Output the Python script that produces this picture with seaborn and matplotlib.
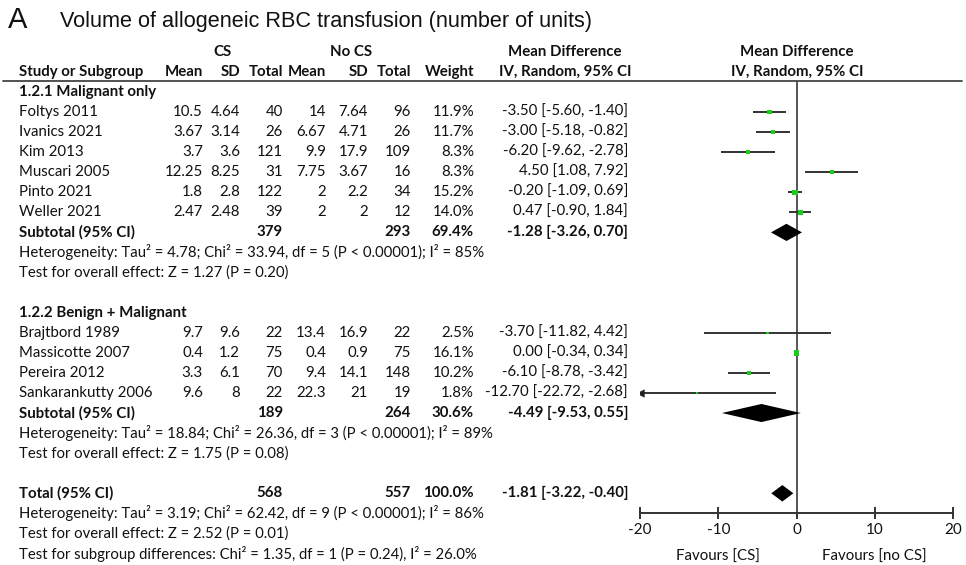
import numpy as np
import pandas as pd
import matplotlib
matplotlib.use("Agg")
import matplotlib.pyplot as plt
import matplotlib.transforms as mtransforms
from matplotlib.lines import Line2D
import seaborn as sns

# ---------------- data ----------------
studies = ["Foltys 2011", "Ivanics 2021", "Kim 2013", "Muscari 2005", "Pinto 2021", "Weller 2021",
           "Brajtbord 1989", "Massicotte 2007", "Pereira 2012", "Sankarankutty 2006"]
groups = [1, 1, 1, 1, 1, 1, 2, 2, 2, 2]
cs_mean = [10.5, 3.67, 3.7, 12.25, 1.8, 2.47, 9.7, 0.4, 3.3, 9.6]
cs_sd = [4.64, 3.14, 3.6, 8.25, 2.8, 2.48, 9.6, 1.2, 6.1, 8]
cs_n = [40, 26, 121, 31, 122, 39, 22, 75, 70, 22]
nocs_mean = [14, 6.67, 9.9, 7.75, 2, 2, 13.4, 0.4, 9.4, 22.3]
nocs_sd = [7.64, 4.71, 17.9, 3.67, 2.2, 2, 16.9, 0.9, 14.1, 21]
nocs_n = [96, 26, 109, 16, 34, 12, 22, 75, 148, 19]
weight = [11.9, 11.7, 8.3, 8.3, 15.2, 14.0, 2.5, 16.1, 10.2, 1.8]
md = [-3.50, -3.00, -6.20, 4.50, -0.20, 0.47, -3.70, 0.00, -6.10, -12.70]
md_lo = [-5.60, -5.18, -9.62, 1.08, -1.09, -0.90, -11.82, -0.34, -8.78, -22.72]
md_hi = [-1.40, -0.82, -2.78, 7.92, 0.69, 1.84, 4.42, 0.34, -3.42, -2.68]

group_titles = ["1.2.1 Malignant only", "1.2.2 Benign + Malignant"]
sum_labels = ["Subtotal (95% CI)", "Subtotal (95% CI)", "Total (95% CI)"]
sum_cs_n = [379, 189, 568]
sum_nocs_n = [293, 264, 557]
sum_weight = [69.4, 30.6, 100.0]
sum_md = [-1.28, -4.49, -1.81]
sum_lo = [-3.26, -9.53, -3.22]
sum_hi = [0.70, 0.55, -0.40]
het_text = [
    ["Heterogeneity: Tau\u00b2 = 4.78; Chi\u00b2 = 33.94, df = 5 (P < 0.00001); I\u00b2 = 85%",
     "Test for overall effect: Z = 1.27 (P = 0.20)"],
    ["Heterogeneity: Tau\u00b2 = 18.84; Chi\u00b2 = 26.36, df = 3 (P < 0.00001); I\u00b2 = 89%",
     "Test for overall effect: Z = 1.75 (P = 0.08)"],
    ["Heterogeneity: Tau\u00b2 = 3.19; Chi\u00b2 = 62.42, df = 9 (P < 0.00001); I\u00b2 = 86%",
     "Test for overall effect: Z = 2.52 (P = 0.01)",
     "Test for subgroup differences: Chi\u00b2 = 1.35, df = 1 (P = 0.24), I\u00b2 = 26.0%"],
]
x_ticks = [-20, -10, 0, 10, 20]
favour_labels = ["Favours [CS]", "Favours [no CS]"]
title_letter = "A"
title_text = "Volume of allogeneic RBC transfusion (number of units)"

# ---------------- layout ----------------
W, H = 966, 565
sns.set_theme(style="white")
plt.rcParams['font.family'] = ['Lato', 'DejaVu Sans']
plt.rcParams['axes.unicode_minus'] = False

fig = plt.figure(figsize=(W / 100, H / 100), dpi=100)
fig.patch.set_facecolor("white")

def fx(px):
    return px / W

def fy(py):
    return 1 - py / H

row0_px, row_h = 91.9, 20.07
ax_top_px, ax_bot_px = 81, 513
ax_left_px, ax_right_px = 640, 953
ylo = (ax_bot_px - row0_px) / row_h
yhi = (ax_top_px - row0_px) / row_h

ax = fig.add_axes([fx(ax_left_px), fy(ax_bot_px), fx(ax_right_px - ax_left_px),
                   (ax_bot_px - ax_top_px) / H])
ax.set_xlim(-20, 20)
ax.set_ylim(ylo, yhi)
ax.set_facecolor("none")

tr = mtransforms.blended_transform_factory(fig.transFigure, ax.transData)

FS = 10.8
col_right = {"cs_mean": 203, "cs_sd": 240, "cs_n": 283, "nocs_mean": 326,
             "nocs_sd": 368, "nocs_n": 411, "weight": 474, "ci": 628}
left_px = 19

def txt(xpx, row, s, ha="right", bold=False, size=FS):
    t = fig.text(fx(xpx), 0, s, transform=tr, ha=ha, va="center",
                 fontsize=size, fontweight="bold" if bold else "normal", color="#111111")
    t.set_position((fx(xpx), row))

def fmt(v):
    return f"{v:g}"

# headers
txt(222, -2, "CS", ha="center", bold=True)
txt(351, -2, "No CS", ha="center", bold=True)
txt(565, -2, "Mean Difference", ha="center", bold=True)
txt(797, -2, "Mean Difference", ha="center", bold=True)
txt(left_px, -1, "Study or Subgroup", ha="left", bold=True)
for key, lab in [("cs_mean", "Mean"), ("cs_sd", "SD"), ("cs_n", "Total"), ("nocs_mean", "Mean"),
                 ("nocs_sd", "SD"), ("nocs_n", "Total"), ("weight", "Weight")]:
    txt(col_right[key], -1, lab, bold=True)
txt(565, -1, "IV, Random, 95% CI", ha="center", bold=True)
txt(797, -1, "IV, Random, 95% CI", ha="center", bold=True)

# rule
fig.add_artist(Line2D([fx(3), fx(962)], [fy(81), fy(81)], transform=fig.transFigure,
                      color="#444444", lw=1.3))

# build rows
study_rows = []
sum_rows = []
row = 0
for g in range(2):
    txt(left_px, row, group_titles[g], ha="left", bold=True)
    row += 1
    for i in range(len(studies)):
        if groups[i] != g + 1:
            continue
        study_rows.append(row)
        txt(left_px, row, studies[i], ha="left")
        txt(col_right["cs_mean"], row, fmt(cs_mean[i]))
        txt(col_right["cs_sd"], row, fmt(cs_sd[i]))
        txt(col_right["cs_n"], row, fmt(cs_n[i]))
        txt(col_right["nocs_mean"], row, fmt(nocs_mean[i]))
        txt(col_right["nocs_sd"], row, fmt(nocs_sd[i]))
        txt(col_right["nocs_n"], row, fmt(nocs_n[i]))
        txt(col_right["weight"], row, f"{weight[i]:.1f}%")
        txt(col_right["ci"], row, f"{md[i]:.2f} [{md_lo[i]:.2f}, {md_hi[i]:.2f}]")
        row += 1
    sum_rows.append(row)
    row += 1
    for line in het_text[g]:
        txt(left_px, row, line, ha="left", size=FS - 0.1)
        row += 1
    row += 1

# total
sum_rows.append(row)
row += 1
for line in het_text[2]:
    txt(left_px, row, line, ha="left", size=FS - 0.1)
    row += 1

for k, r in enumerate(sum_rows):
    txt(left_px, r, sum_labels[k], ha="left", bold=True)
    txt(col_right["cs_n"], r, fmt(sum_cs_n[k]), bold=True)
    txt(col_right["nocs_n"], r, fmt(sum_nocs_n[k]), bold=True)
    txt(col_right["weight"], r, f"{sum_weight[k]:.1f}%", bold=True)
    txt(col_right["ci"], r, f"{sum_md[k]:.2f} [{sum_lo[k]:.2f}, {sum_hi[k]:.2f}]", bold=True)

# ---------------- forest plot ----------------
df = pd.DataFrame({"study": studies, "md": md, "lo": md_lo, "hi": md_hi,
                   "weight": weight, "row": study_rows})
ax.axvline(0, color="#555555", lw=1.4, zorder=1)
lo_clip = np.clip(df["lo"], -20, 20)
hi_clip = np.clip(df["hi"], -20, 20)
ax.hlines(df["row"], lo_clip, hi_clip, color="#333333", lw=1.4, zorder=2)
off = df[df["lo"] < -20]
ax.scatter(np.full(len(off), -20.0), off["row"], marker="<", s=36, color="#222222",
           zorder=3, linewidths=0)
sns.scatterplot(data=df, x="md", y="row", size="weight", sizes=(0, 16), size_norm=(0, 16.1),
                marker="s", color="#18d018", edgecolor="none", linewidth=0, legend=False,
                ax=ax, zorder=4)

dh = [0.43, 0.45, 0.41]
for k, r in enumerate(sum_rows):
    ax.fill([sum_lo[k], sum_md[k], sum_hi[k], sum_md[k]],
            [r, r - dh[k], r, r + dh[k]], color="black", lw=0, zorder=5)

for s in ["left", "top", "right"]:
    ax.spines[s].set_visible(False)
ax.spines["bottom"].set_color("#333333")
ax.spines["bottom"].set_linewidth(1.4)
ax.set_yticks([])
ax.set_xticks(x_ticks)
ax.set_xticklabels([str(t) for t in x_ticks], fontsize=11, color="#111111")
ax.tick_params(axis="x", direction="inout", length=9, width=1.4, color="#333333", pad=3,
               bottom=True)
ax.set_xlabel("")
ax.set_ylabel("")

# favours labels
trx = mtransforms.blended_transform_factory(ax.transData, fig.transFigure)
for xv, lab in zip([-10, 10], favour_labels):
    t = fig.text(0, 0, lab, transform=trx, ha="center", va="center", fontsize=10.8,
                 color="#111111")
    t.set_position((xv, fy(557)))

# title
fig.text(fx(8), fy(20), title_letter, ha="left", va="center", fontsize=21,
         family=["Liberation Sans", "DejaVu Sans"], color="#111111")
fig.text(fx(60), fy(21), title_text, ha="left", va="center", fontsize=15.6,
         family=["Liberation Sans", "DejaVu Sans"], color="#111111")

fig.savefig("out.png", dpi=100, facecolor="white")
